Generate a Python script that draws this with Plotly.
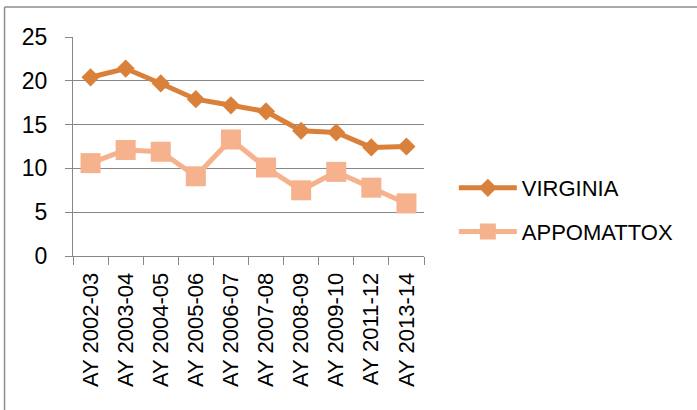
import plotly.graph_objects as go

categories = ["AY 2002-03", "AY 2003-04", "AY 2004-05", "AY 2005-06", "AY 2006-07",
              "AY 2007-08", "AY 2008-09", "AY 2009-10", "AY 2011-12", "AY 2013-14"]
virginia = [20.4, 21.4, 19.7, 17.9, 17.2, 16.5, 14.3, 14.1, 12.4, 12.5]
appomattox = [10.6, 12.1, 11.9, 9.1, 13.3, 10.1, 7.5, 9.6, 7.8, 6.0]
y_ticks = [0, 5, 10, 15, 20, 25]

FONT = "Liberation Sans"
GRID = "#878787"

fig = go.Figure()
fig.add_trace(go.Scatter(
    x=categories, y=virginia, name="VIRGINIA", mode="lines+markers",
    line=dict(color="#D9813A", width=5),
    marker=dict(symbol="diamond", size=14, color="#D9813A"),
    legendgroup="a",
))
fig.add_trace(go.Scatter(
    x=categories, y=appomattox, name="APPOMATTOX", mode="lines+markers",
    line=dict(color="#F6B18D", width=5),
    marker=dict(symbol="square", size=20, color="#F6B18D"),
    legendgroup="b",
))

fig.update_layout(
    width=697, height=410,
    margin=dict(l=73, r=273, t=37, b=154),
    paper_bgcolor="white", plot_bgcolor="white",
    font=dict(family=FONT, size=22, color="black"),
    showlegend=True,
    legend=dict(x=1.085, y=0.21, xanchor="left", yanchor="middle",
                font=dict(family=FONT, size=22, color="black"),
                tracegroupgap=12, bgcolor="rgba(0,0,0,0)", itemwidth=58),
    xaxis=dict(
        type="category", tickangle=-90, tickson="boundaries",
        ticks="outside", ticklen=8, tickcolor=GRID, tickwidth=1,
        showline=True, linecolor=GRID, linewidth=1,
        showgrid=False, tickfont=dict(family=FONT, size=22),
        ticklabelstandoff=7,
        range=[-0.5, len(categories) - 0.5],
    ),
    yaxis=dict(
        range=[0, 25], tickvals=y_ticks, ticks="outside", ticklen=7,
        tickcolor=GRID, showline=True, linecolor=GRID, linewidth=1,
        showgrid=True, gridcolor=GRID, gridwidth=1, zeroline=False,
        tickfont=dict(family=FONT, size=23), ticklabelstandoff=13,
    ),
    shapes=[
        dict(type="line", xref="paper", yref="paper", x0=-0.195, x1=1.8, y0=1.137, y1=1.137,
             line=dict(color="#8C8C8C", width=1.5)),
        dict(type="line", xref="paper", yref="paper", x0=-0.195, x1=-0.195, y0=1.137, y1=-0.8,
             line=dict(color="#8C8C8C", width=1.5)),
    ],
)

fig.write_html("out.html", config={"displayModeBar": False},
               post_script="document.body.style.margin='0';")
